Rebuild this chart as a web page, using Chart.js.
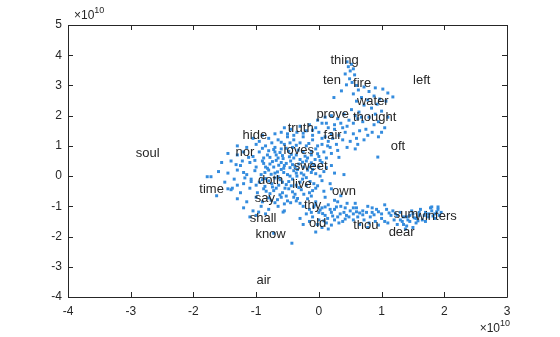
<!DOCTYPE html>
<html><head><meta charset="utf-8">
<script src="https://cdn.jsdelivr.net/npm/chart.js@4/dist/chart.umd.min.js"></script>
<style>html,body{margin:0;padding:0;background:#fff}#wrap{width:560px;height:337px}</style>
</head><body><div id="wrap"><canvas id="c" width="560" height="337"></canvas></div>
<script>
// axis ticks (values shown in units of 1e10)
const xTicks = [-4,-3,-2,-1,0,1,2,3];
const yTicks = [-4,-3,-2,-1,0,1,2,3,4,5];
const exponent = 10;

// labelled words (position in 1e10 units)
const words = ["thing","ten","fire","left","water","prove","thought","truth","hide","fair","oft","soul","nor","loves","sweet","doth","live","time","own","say","thy","shall","old","sum","winters","thou","dear","know","air"];
const wordX = [0.41,0.21,0.69,1.64,0.86,0.22,0.89,-0.29,-1.02,0.22,1.26,-2.73,-1.18,-0.32,-0.13,-0.77,-0.27,-1.71,0.40,-0.86,-0.10,-0.89,-0.02,1.39,1.87,0.75,1.32,-0.77,-0.88];
const wordY = [3.84,3.18,3.08,3.18,2.48,2.05,1.95,1.59,1.36,1.36,0.99,0.76,0.79,0.86,0.33,-0.13,-0.26,-0.43,-0.50,-0.73,-0.96,-1.39,-1.56,-1.26,-1.32,-1.62,-1.85,-1.92,-3.44];

// embedding points (1e10 units)
const topArm = [[0.45,3.78],[0.52,3.7],[0.47,3.62],[0.55,3.55],[0.5,3.48],[0.42,3.38],[0.57,3.35],[0.49,3.22],[0.53,3.1],[0.44,3.02],[0.6,3.0],[0.36,2.82],[0.24,2.6],
[0.55,2.72],[0.63,2.85],[0.72,2.95],[0.8,2.8],[0.9,2.92],[1.02,2.88],[1.1,2.75],[1.18,2.62],[0.68,2.6],[0.6,2.48],[0.78,2.52],[0.88,2.65],[0.97,2.55],[1.07,2.48],[0.72,2.35],[0.84,2.25],[0.93,2.38],[0.52,2.2],[0.64,2.12],[1.0,2.15],[0.9,2.05],[0.58,2.0]];
const upperBand = [[0.1,1.95],[0.2,2.0],[0.3,1.9],[0.4,2.05],[0.48,1.85],[0.35,1.75],[0.25,1.7],[0.15,1.6],[0.05,1.75],[-0.05,1.6],[0.45,1.65],[0.55,1.75],[0.62,1.9],[0.7,1.8],[0.8,1.95],[0.88,1.7],[0.95,1.8],[1.05,1.6],[0.75,1.55],[0.65,1.5],[0.55,1.4],[0.42,1.45],[0.32,1.35],[0.2,1.4],[0.1,1.3],[0.0,1.45],[-0.1,1.35],[0.85,1.45],[0.95,1.3],[0.6,1.25],[0.5,1.15],[0.38,1.2],[0.28,1.05],[0.15,1.15],[0.05,1.05],[0.72,1.2],[0.45,0.95],[0.3,0.85],[0.18,0.95],[0.62,1.05],[0.25,1.55],[0.38,1.6],[0.78,1.35],[1.0,1.45],[0.12,1.75],[-0.02,1.85],[0.94,0.63],[1.1,1.95],[0.68,1.95],[0.58,0.9]];
const mainCluster = [[-0.55,1.6],[-0.45,1.55],[-0.3,1.65],[-0.2,1.5],[-0.35,1.45],[-0.6,1.45],[-0.7,1.4],[-0.15,1.7],
[-0.9,1.35],[-0.8,1.25],[-0.65,1.2],[-0.5,1.3],[-0.4,1.2],[-0.25,1.3],[-0.1,1.2],[-1.05,1.25],[-0.95,1.15],[-0.3,1.1],
[-1.3,1.0],[-1.15,0.95],[-1.0,1.05],[-0.85,1.0],[-0.7,0.95],[-0.55,1.05],[-0.42,0.95],[-0.2,1.0],[-0.05,0.9],[0.08,0.8],[-0.75,1.1],[-0.6,0.9],
[-1.45,0.75],[-1.3,0.7],[-1.2,0.8],[-1.05,0.65],[-0.95,0.8],[-0.82,0.7],[-0.7,0.8],[-0.58,0.68],[-0.48,0.82],[-0.36,0.7],[-0.25,0.8],[-0.12,0.7],[0.0,0.65],[0.12,0.6],[-0.88,0.6],[-0.65,0.6],[-0.4,0.6],
[-1.55,0.45],[-1.4,0.5],[-1.25,0.35],[-1.1,0.45],[-1.0,0.3],[-0.9,0.5],[-0.78,0.4],[-0.68,0.52],[-0.55,0.35],[-0.45,0.5],[-0.32,0.4],[-0.2,0.5],[-0.08,0.38],[0.05,0.45],[0.2,0.35],[-0.6,0.45],[-0.38,0.3],[-0.15,0.3],[-0.85,0.3],
[-1.6,0.15],[-1.45,0.1],[-1.3,0.2],[-1.15,0.05],[-1.02,0.18],[-0.92,0.05],[-0.8,0.2],[-0.7,0.1],[-0.6,0.22],[-0.5,0.05],[-0.4,0.18],[-0.28,0.1],[-0.18,0.2],[-0.05,0.08],[0.08,0.15],[0.25,0.1],[0.4,0.05],[-0.65,-0.02],[-0.35,0.0],
[-1.5,-0.2],[-1.35,-0.1],[-1.2,-0.25],[-1.08,-0.1],[-0.95,-0.2],[-0.85,-0.08],[-0.75,-0.25],[-0.62,-0.12],[-0.52,-0.28],[-0.42,-0.1],[-0.3,-0.2],[-0.2,-0.05],[-0.08,-0.25],[0.05,-0.15],[0.18,-0.25],[-1.0,-0.3],
[-1.4,-0.45],[-1.25,-0.55],[-1.1,-0.4],[-0.98,-0.55],[-0.88,-0.42],[-0.78,-0.58],[-0.68,-0.4],[-0.58,-0.55],[-0.48,-0.42],[-0.38,-0.6],[-0.28,-0.45],[-0.15,-0.55],[-0.05,-0.4],[0.08,-0.5],[0.2,-0.42],
[-1.3,-0.75],[-1.15,-0.85],[-1.0,-0.7],[-0.9,-0.85],[-0.8,-0.72],[-0.7,-0.88],[-0.6,-0.7],[-0.5,-0.82],[-0.4,-0.7],[-0.3,-0.9],[-0.18,-0.75],[-0.05,-0.85],[0.1,-0.7],[0.25,-0.8],[0.35,-0.65],
[-1.2,-1.05],[-1.05,-1.15],[-0.92,-1.0],[-0.8,-1.1],[-0.65,-1.0],[-0.55,-1.15],[-1.0,-1.3],[-0.85,-1.25],[-1.1,-1.35],[-0.57,-1.19],[-0.96,-1.19],
[-1.78,-0.02],[-1.72,-0.02],[-1.63,-0.65],[-1.45,-0.42],[-1.38,-0.4],[-0.43,-2.22],[-0.72,-1.89]];
const clusterCore = [[-0.72,0.88],[-0.62,0.78],[-0.52,0.92],[-0.44,0.72],[-0.33,0.86],[-0.22,0.66],[-0.12,0.82],[-0.02,0.74],
[-0.78,0.62],[-0.68,0.7],[-0.57,0.58],[-0.47,0.64],[-0.3,0.55],[-0.18,0.6],[-0.06,0.55],[0.02,0.52],
[-0.88,0.42],[-0.74,0.48],[-0.64,0.36],[-0.52,0.42],[-0.42,0.38],[-0.26,0.46],[-0.12,0.44],[0.0,0.3],
[-0.82,0.26],[-0.72,0.3],[-0.56,0.26],[-0.46,0.28],[-0.34,0.22],[-0.24,0.3],[-0.1,0.22],[0.12,0.28],
[-0.86,0.12],[-0.76,0.06],[-0.66,0.14],[-0.56,0.12],[-0.46,0.0],[-0.36,0.1],[-0.24,0.04],[-0.12,0.12],[0.02,0.0],
[-0.9,-0.12],[-0.8,-0.16],[-0.7,-0.06],[-0.58,-0.2],[-0.48,-0.18],[-0.36,-0.3],[-0.26,-0.1],[-0.14,-0.18],[-0.02,-0.32],
[-0.86,-0.34],[-0.74,-0.36],[-0.64,-0.3],[-0.54,-0.4],[-0.44,-0.32],[-0.32,-0.38],[-0.2,-0.3],[-0.1,-0.48],
[-0.84,-0.5],[-0.72,-0.48],[-0.62,-0.62],[-0.52,-0.66],[-0.42,-0.52],[-0.34,-0.74],[-0.24,-0.6],[-0.12,-0.66],
[-0.76,-0.8],[-0.66,-0.78],[-0.55,-0.92],[-0.45,-0.88],[-0.36,-0.82],
[-0.9,0.92],[-0.8,0.84],[-0.6,1.12],[-0.46,1.1],[-0.36,1.02],[-0.16,1.08],[-0.02,1.0],[0.14,1.0],
[-0.5,1.4],[-0.4,1.35],[-0.25,1.42],[-0.1,1.52],[0.05,1.25],[0.22,1.25],[0.2,0.75],[0.32,0.62],
[-1.02,0.52],[-1.12,0.62],[-1.22,0.5],[-1.32,0.38],[-1.2,0.12],[-1.08,-0.18],[-1.18,-0.06],[-1.3,-0.3]];
const bottomArm = [[-0.25,-1.0],[-0.15,-1.1],[-0.05,-0.95],[0.05,-1.05],[0.15,-0.95],[0.25,-1.1],[0.35,-1.0],[-0.2,-1.25],[-0.1,-1.35],[0.0,-1.2],[0.1,-1.3],[0.2,-1.2],[0.3,-1.35],[0.4,-1.2],[-0.3,-1.4],[-0.15,-1.5],[0.0,-1.45],[0.12,-1.55],[0.25,-1.45],[0.38,-1.5],[0.05,-1.7],[-0.05,-1.85],[0.15,-1.75],[-0.25,-1.6],[0.3,-0.85],[0.45,-0.9],[0.42,-1.05],[0.5,-1.15],[0.48,-1.35],[0.55,-1.25],
[0.6,-1.05],[0.7,-1.15],[0.78,-1.0],[0.85,-1.2],[0.92,-1.1],[1.0,-1.25],[1.08,-1.1],[1.15,-1.3],[0.62,-1.35],[0.72,-1.45],[0.82,-1.35],[0.9,-1.5],[1.0,-1.4],[1.1,-1.55],[0.65,-1.6],[0.78,-1.7],[0.95,-1.62],[1.2,-1.45],[0.58,-0.9],[1.05,-0.95],[0.7,-1.28],[0.88,-1.28],[1.18,-1.15],
[1.25,-1.3],[1.3,-1.45],[1.35,-1.6],[1.4,-1.35],[1.45,-1.5],[1.5,-1.25],[1.55,-1.4],[1.6,-1.3],[1.65,-1.45],[1.7,-1.2],[1.75,-1.35],[1.8,-1.15],[1.85,-1.25],[1.9,-1.1],[1.92,-1.3],[1.3,-1.2],[1.4,-1.65],[1.55,-1.55],[1.7,-1.5],[1.78,-1.05],[1.85,-1.4],[1.62,-1.1],[1.48,-1.15],[1.95,-1.2],[1.25,-1.6],[1.38,-1.75],[1.5,-1.7]];
const armCore = [[-0.08,-1.02],[0.02,-1.12],[0.1,-1.02],[0.18,-1.1],[0.28,-1.02],[-0.12,-1.2],[0.06,-1.24],[0.14,-1.4],[0.22,-1.32],[0.34,-1.25],[0.44,-1.3],[0.32,-1.55],[0.2,-1.62],[0.08,-1.48],[-0.02,-1.6],[0.55,-1.05],[0.65,-1.22],[0.76,-1.2],[0.85,-1.05],[0.95,-1.18],[1.12,-1.22],[1.22,-1.25],[1.35,-1.35],[1.45,-1.3],[1.52,-1.38],[1.6,-1.2],[1.68,-1.3],[1.75,-1.25],[1.82,-1.32],[1.88,-1.18],[1.42,-1.45],[1.58,-1.48],[1.33,-1.5],[1.8,-1.02],[1.9,-1.02],[0.55,-1.45],[0.42,-1.42],[0.8,-1.55],[1.05,-1.5],[0.6,-1.18]];

const allPoints = topArm.concat(upperBand, mainCluster, clusterCore, bottomArm, armCore).map(p => ({x: p[0], y: p[1]}));

const AX = '#262626';
const FONT = '"Liberation Sans", Arial, sans-serif';

const decor = {
  id: 'decor',
  afterDatasetsDraw(chart) {
    const ctx = chart.ctx, a = chart.chartArea;
    const xs = chart.scales.x, ys = chart.scales.y;
    ctx.save();
    // words
    ctx.fillStyle = '#262626';
    ctx.font = '13px ' + FONT;
    ctx.textAlign = 'center';
    ctx.textBaseline = 'middle';
    words.forEach((w, i) => {
      ctx.fillText(w, xs.getPixelForValue(wordX[i]), ys.getPixelForValue(wordY[i]));
    });
    // box
    ctx.strokeStyle = AX;
    ctx.lineWidth = 1;
    ctx.beginPath();
    ctx.rect(Math.round(a.left) + 0.5, Math.round(a.top) + 0.5, Math.round(a.right - a.left), Math.round(a.bottom - a.top));
    ctx.stroke();
    // inward ticks
    const tl = 5;
    ctx.beginPath();
    xTicks.forEach(v => {
      const px = Math.round(xs.getPixelForValue(v)) + 0.5;
      ctx.moveTo(px, a.bottom); ctx.lineTo(px, a.bottom - tl);
      ctx.moveTo(px, a.top); ctx.lineTo(px, a.top + tl);
    });
    yTicks.forEach(v => {
      const py = Math.round(ys.getPixelForValue(v)) + 0.5;
      ctx.moveTo(a.left, py); ctx.lineTo(a.left + tl, py);
      ctx.moveTo(a.right, py); ctx.lineTo(a.right - tl, py);
    });
    ctx.stroke();
    // exponent labels
    const drawExp = (x, y, align) => {
      ctx.fillStyle = AX;
      ctx.textBaseline = 'alphabetic';
      ctx.textAlign = 'left';
      ctx.font = '12px ' + FONT;
      const base = '\u00d710';
      const bw = ctx.measureText(base).width;
      ctx.font = '9px ' + FONT;
      const sw = ctx.measureText(String(exponent)).width;
      const start = align === 'right' ? x - bw - sw : x;
      ctx.font = '12px ' + FONT;
      ctx.fillText(base, start, y);
      ctx.font = '9px ' + FONT;
      ctx.fillText(String(exponent), start + bw, y - 6);
    };
    drawExp(a.left + 6, a.top - 6, 'left');
    drawExp(a.right + 3, a.bottom + 35, 'right');
    ctx.restore();
  }
};

new Chart(document.getElementById('c'), {
  type: 'scatter',
  data: { datasets: [{
    data: allPoints,
    pointStyle: 'rect',
    pointRadius: 2.1,
    pointHoverRadius: 2.1,
    borderWidth: 0,
    backgroundColor: 'rgb(52,140,222)'
  }]},
  options: {
    responsive: false,
    animation: false,
    events: [],
    layout: { padding: { top: 25, right: 53, left: 0, bottom: 0 } },
    plugins: { legend: { display: false }, tooltip: { enabled: false } },
    scales: {
      x: {
        type: 'linear', min: -4, max: 3,
        afterBuildTicks: s => { s.ticks = xTicks.map(v => ({ value: v })); },
        afterFit: s => { s.height = 40; },
        grid: { display: false, drawTicks: false },
        border: { display: false },
        ticks: { color: AX, font: { family: FONT, size: 12 }, padding: 7, maxRotation: 0 }
      },
      y: {
        type: 'linear', min: -4, max: 5,
        afterBuildTicks: s => { s.ticks = yTicks.map(v => ({ value: v })); },
        afterFit: s => { s.width = 68; },
        grid: { display: false, drawTicks: false },
        border: { display: false },
        ticks: { color: AX, font: { family: FONT, size: 12 }, padding: 6 }
      }
    }
  },
  plugins: [decor]
});
</script>
</body></html>
